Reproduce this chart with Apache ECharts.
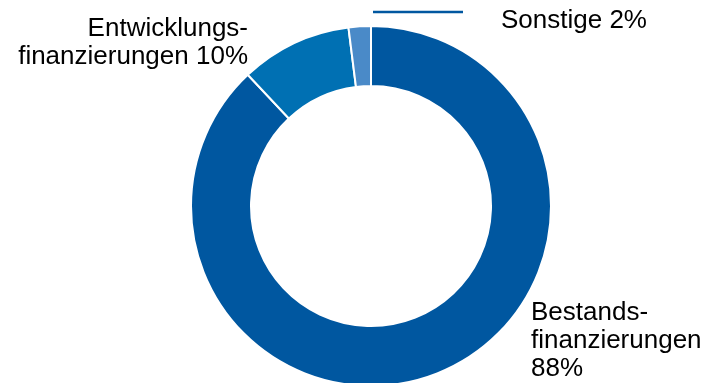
<!DOCTYPE html>
<html>
<head>
<meta charset="utf-8">
<script src="https://cdn.jsdelivr.net/npm/echarts@6/dist/echarts.min.js"></script>
<style>html,body{margin:0;padding:0;background:#fff}#c{width:705px;height:383px}</style>
</head>
<body>
<div id="c"></div>
<script>
const categories = ['Bestands-\nfinanzierungen\n88%', 'Entwicklungs-\nfinanzierungen 10%', 'Sonstige 2%'];
const values = [88, 10, 2];
const colors = ['#0057a0', '#0070b3', '#4a8ac8'];

const chart = echarts.init(document.getElementById('c'), null, {renderer: 'canvas'});
const labelPos = [
  {x: 531, y: 299, align: 'left'},
  {x: 248, y: 15, align: 'right'},
  {x: 501, y: 7, align: 'left'}
];
chart.setOption({
  animation: false,
  series: [{
    type: 'pie',
    center: [371, 206],
    radius: [120, 180],
    startAngle: 90,
    clockwise: true,
    avoidLabelOverlap: false,
    itemStyle: {borderColor: '#fff', borderWidth: 2},
    label: {
      show: true,
      formatter: p => p.name,
      fontFamily: 'Liberation Sans, Arial, sans-serif',
      fontSize: 26,
      lineHeight: 28,
      color: '#000'
    },
    labelLine: {show: true, lineStyle: {color: '#0057a0', width: 2.5}},
    labelLayout: function (params) {
      const p = labelPos[params.dataIndex];
      const out = {x: p.x, y: p.y, align: p.align, verticalAlign: 'top'};
      if (params.dataIndex === 2) {
        out.labelLinePoints = [[373, 12], [418, 12], [463, 12]];
      } else {
        out.labelLinePoints = [[0, 0], [0, 0], [0, 0]];
      }
      return out;
    },
    data: categories.map((c, i) => ({
      name: c, value: values[i],
      itemStyle: {color: colors[i]},
      labelLine: {show: i === 2}
    }))
  }]
});
</script>
</body>
</html>
